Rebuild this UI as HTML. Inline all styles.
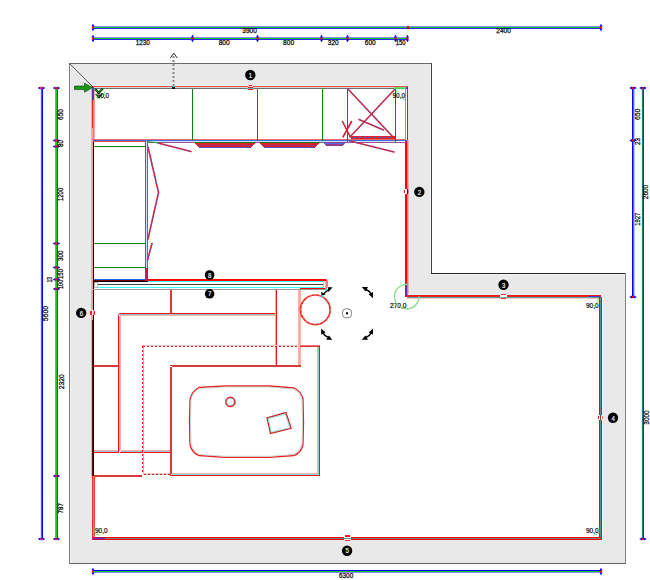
<!DOCTYPE html>
<html><head><meta charset="utf-8"><style>
html,body{margin:0;padding:0;background:#fff;}
svg{display:block;}
text{font-family:"Liberation Sans",sans-serif;}
</style></head><body>
<svg width="650" height="580" viewBox="0 0 650 580">
<defs>
<g id="tk"><path d="M-1.6,-1L0,-3.8L1.6,-1Z M-1.6,1L0,3.8L1.6,1Z" fill="#00f"/><rect x="-1" y="-1" width="2" height="2" fill="#e00"/></g>
<g id="tkv"><path d="M-1,-1.6L-3.8,0L-1,1.6Z M1,-1.6L3.8,0L1,1.6Z" fill="#00f"/><rect x="-1" y="-1" width="2" height="2" fill="#e00"/></g>
</defs>
<!-- wall fill -->
<path d="M69,63H432V273H626V564H69Z M92,86V540H602V297H408V86Z" fill="#e9e9e9" fill-rule="evenodd"/>
<g shape-rendering="crispEdges" fill="none">
<!-- outer border -->
<path d="M70.5,64V563M431,274.5H625" stroke="#f3f3f3"/>
<path d="M430.5,64V273" stroke="#f4f4f4"/>
<path d="M69,63.5H432" stroke="#6a6a6a"/>
<path d="M431.5,63V274" stroke="#404040"/>
<path d="M431,273.5H626" stroke="#252525"/>
<path d="M625.5,273V564" stroke="#808080"/>
<path d="M69,563.5H626" stroke="#666"/>
<path d="M69.5,63V564" stroke="#7a7a7a"/>
<!-- wall lines: top -->
<path d="M93,85.5H406" stroke="#e6f6f6"/>
<path d="M92,86.5H408" stroke="#e84848"/>
<path d="M93,87.5H405" stroke="#d8d8d8"/>
<!-- right upper -->
<path d="M405.5,140V297M406.5,140V297" stroke="#f00"/>
<path d="M405.5,86V140" stroke="#f07a7a"/>
<path d="M407.5,87V140" stroke="#555"/>
<path d="M407.5,140V296" stroke="#3cc"/>
<path d="M408.5,140V295" stroke="#f4b0b0"/>
<!-- step -->
<path d="M408,294.5H600" stroke="#e4f4f4"/>
<path d="M405,295.5H601" stroke="#f01818"/>
<path d="M405,296.5H601" stroke="#e02424"/>
<path d="M407,297.5H599" stroke="#60a8a8"/>
<path d="M407,298.5H599" stroke="#ffc4c4"/>
<!-- right lower -->
<path d="M599.5,296V540" stroke="#f00"/>
<path d="M600.5,297V539" stroke="#6a8a8a"/>
<path d="M601.5,297V540" stroke="#f00"/>
<path d="M602.5,297V540" stroke="#dff"/>
<!-- bottom -->
<path d="M92,537.5H601" stroke="#f00"/>
<path d="M93,538.5H600" stroke="#6a8a8a"/>
<path d="M92,539.5H602" stroke="#f00"/>
<!-- left -->
<path d="M91.5,86V476" stroke="#f4a8a8"/>
<path d="M92.5,100V128M92.5,476V540" stroke="#ee2a2a"/>
<path d="M92.5,87V100" stroke="#6030a0"/>
<path d="M92.5,128V320" stroke="#f4a0a0"/>
<path d="M92.5,320V476" stroke="#6a0808"/>
<path d="M93.5,140V476" stroke="#000"/>
<path d="M93.5,100V140M93.5,476V537" stroke="#3cc"/>
<path d="M93.5,87V100" stroke="#f01010"/>
<path d="M94.5,89V139" stroke="#f8a8a8"/>
<path d="M94.5,477V537" stroke="#f04040"/>
</g>
<!-- corner diagonal -->
<line x1="69.5" y1="63.5" x2="93" y2="87" stroke="#333" stroke-width="0.8"/>


<!-- ======= CABINETS ======= -->
<g shape-rendering="crispEdges">
<!-- top cabinets -->
<rect x="93" y="88" width="313" height="1" fill="#707070"/>
<rect x="93" y="139" width="313" height="1" fill="#f06a6a"/>
<rect x="93" y="140" width="314" height="1" fill="#3b6fe0"/>
<rect x="93" y="141" width="54" height="1" fill="#e84848"/>
<rect x="147" y="142" width="259" height="1" fill="#a0508a"/>
<rect x="147" y="141" width="249" height="1" fill="#cfe0ff"/>
<!-- green dividers top -->
<rect x="192" y="89" width="1" height="52" fill="#108010"/>
<rect x="257" y="89" width="1" height="52" fill="#108010"/>
<rect x="322" y="89" width="1" height="52" fill="#108010"/>
<rect x="347" y="89" width="1" height="53" fill="#108010"/>
<rect x="395" y="89" width="1" height="53" fill="#108010"/>
<!-- left column -->
<rect x="145" y="141" width="1" height="139" fill="#904a8a"/>
<rect x="146" y="141" width="1" height="139" fill="#cfe0ff"/>
<rect x="147" y="141" width="1" height="139" fill="#3b6fe0"/>
<rect x="94" y="146" width="52" height="1" fill="#108010"/>
<rect x="94" y="243" width="52" height="1" fill="#108010"/>
<rect x="94" y="267" width="52" height="1" fill="#108010"/>
<rect x="145" y="268" width="3" height="13" fill="#c01848"/>
<rect x="145" y="268" width="1" height="12" fill="#8a3a8a"/>
<rect x="94" y="279" width="51" height="1" fill="#1a6ae8"/>
<rect x="94" y="280" width="51" height="1" fill="#7a0000"/>
<rect x="94" y="281" width="54" height="1" fill="#000"/>
<!-- counter / partition -->
<rect x="148" y="279" width="178" height="2" fill="#f00"/>
<rect x="148" y="281" width="176" height="1" fill="#3ff"/>
<rect x="97" y="284" width="226" height="1" fill="#444"/>
<rect x="96" y="287" width="228" height="1" fill="#3ff"/>
<rect x="93" y="289" width="233" height="1" fill="#999"/>
<rect x="94.5" y="282.5" width="3" height="5" fill="#fff" stroke="#999" stroke-width="0.7"/>
<rect x="323" y="281" width="2" height="7" fill="#fff" stroke="#888" stroke-width="0.5"/>
</g>
<path d="M148,279.5H325.5a1.5,1.5 0 0 1 1.5,1.5V287a1.5,1.5 0 0 1 -1.5,1.5H300" fill="none" stroke="#f00" stroke-width="1"/>
<!-- drawers (open) -->
<g shape-rendering="crispEdges">
<rect x="194" y="142" width="62" height="1" fill="#108010"/>
<path d="M195,143H255L250,148H199Z" fill="#e0202a"/>
<rect x="197" y="145" width="56" height="1" fill="#a03070"/>
<rect x="199" y="147" width="51" height="1" fill="#6050c0"/>
<rect x="259" y="142" width="61" height="1" fill="#108010"/>
<path d="M260,143H319L314,148H264Z" fill="#e0202a"/>
<rect x="262" y="145" width="55" height="1" fill="#a03070"/>
<rect x="264" y="147" width="50" height="1" fill="#6050c0"/>
<path d="M323,142H346L343,146H326Z" fill="#9a3c8c"/>
<rect x="324" y="143" width="21" height="1" fill="#4a70e0"/>
</g>
<!-- door swings -->
<g fill="none" stroke-width="1.6" stroke-linecap="round">
<path d="M158,143L191,151.5" stroke="#d8203c"/>
<path d="M148,147L158.5,192.5L148,239" stroke="#d8203c"/>
<path d="M152,243.5L147.5,260" stroke="#d8203c"/>
<path d="M350,141L394,152" stroke="#d8203c"/>
<path d="M348,89L393,137M395,89L350,137" stroke="#d8203c"/>
<path d="M342.5,121.5L350,136.5M351.5,121.5L343,137" stroke="#d8203c"/>
<path d="M359,119.5L383.5,130" stroke="#d8203c"/>
</g>
<g fill="none" stroke-width="1" stroke-dasharray="2 4" stroke="#3a68e0">
<path d="M158,143L191,151.5"/>
<path d="M148,147L158.5,192.5L148,239"/>
<path d="M152,243.5L147.5,260"/>
<path d="M350,141L394,152"/>
<path d="M348,89L393,137M395,89L350,137"/>
<path d="M359,119.5L383.5,130"/>
</g>
<rect x="351" y="136" width="44" height="3" fill="#e0202a"/>
<path d="M147,141.5L159,143" stroke="#2a9a2a" stroke-width="1.2"/>
<path d="M147.5,142V160" stroke="#2a9a2a" stroke-width="0.8"/>
<path d="M353,137.5H394" stroke="#3a68e0" stroke-dasharray="3 2" stroke-width="1"/>


<!-- ======= BATHROOM ======= -->
<g shape-rendering="crispEdges">
<rect x="170" y="290" width="1" height="23" fill="#d23c3c"/>
<rect x="171" y="290" width="1" height="23" fill="#d23c3c"/>
<rect x="120" y="313" width="157" height="1" fill="#f01414"/>
<rect x="120" y="314" width="156" height="1" fill="#94c6c6"/>
<rect x="120" y="315" width="155" height="1" fill="#f6b0b0"/>
<rect x="118" y="316" width="1" height="137" fill="#f01414"/>
<rect x="119" y="316" width="1" height="135" fill="#94c6c6"/>
<rect x="120" y="316" width="1" height="134" fill="#f6b0b0"/>
<rect x="94" y="365" width="24" height="1" fill="#d23c3c"/>
<rect x="94" y="366" width="24" height="1" fill="#d23c3c"/>
<rect x="275" y="290" width="1" height="75" fill="#f6b0b0"/>
<rect x="276" y="290" width="1" height="77" fill="#f01414"/>
<rect x="298" y="290" width="1" height="76" fill="#f6b0b0"/>
<rect x="299" y="290" width="1" height="76" fill="#70e6e6"/>
<rect x="300" y="290" width="1" height="76" fill="#f4b0b0"/>
<rect x="170" y="365" width="131" height="1" fill="#d23c3c"/>
<rect x="172" y="366" width="129" height="1" fill="#d23c3c"/>
<rect x="170" y="367" width="1" height="108" fill="#d23c3c"/>
<rect x="171" y="367" width="1" height="107" fill="#d23c3c"/>
<rect x="300" y="345" width="20" height="1" fill="#f07070"/>
<rect x="300" y="346" width="19" height="1" fill="#d23c3c"/>
<rect x="317" y="347" width="1" height="127" fill="#f6b0b0"/>
<rect x="318" y="347" width="1" height="127" fill="#94c6c6"/>
<rect x="319" y="346" width="1" height="130" fill="#f01414"/>
<rect x="172" y="473" width="146" height="1" fill="#f6b0b0"/>
<rect x="172" y="474" width="147" height="1" fill="#70e6e6"/>
<rect x="170" y="475" width="150" height="1" fill="#f01414"/>
<rect x="94" y="450" width="24" height="1" fill="#f6b0b0"/>
<rect x="94" y="451" width="24" height="1" fill="#94c6c6"/>
<rect x="94" y="452" width="24" height="1" fill="#f01414"/>
<rect x="121" y="450" width="49" height="1" fill="#f6b0b0"/>
<rect x="121" y="451" width="49" height="1" fill="#94c6c6"/>
<rect x="120" y="452" width="50" height="1" fill="#f01414"/>
<rect x="94" y="475" width="48" height="1" fill="#d23c3c"/>
<rect x="94" y="476" width="48" height="1" fill="#d23c3c"/>
</g>
<path d="M118.5,318V315.5a2,2 0 0 1 2,-2H122" fill="none" stroke="#e02828" stroke-width="1"/>
<!-- dotted -->
<g shape-rendering="crispEdges">
<rect x="142" y="345" width="157" height="1" fill="#e8c8c8"/>
<rect x="143" y="346" width="1" height="128" fill="#c8b8b8"/>
<rect x="143" y="474" width="27" height="1" fill="#8ef0f0"/>
<rect x="143" y="473" width="27" height="1" fill="#f8c0c0"/>
</g>
<g stroke="#f01010" stroke-width="1" stroke-dasharray="2 2" fill="none" shape-rendering="crispEdges">
<path d="M143,346.5H298"/>
<path d="M142.5,346V474"/>
<path d="M144,474.5H170"/>
</g>
<!-- bathtub -->
<path id="tub" d="M199,387.5L225,386H269L294,388Q301,391 303,399L303.5,422L303,444.5Q301,453 294,455.5L269,457.3H225L199,455.5Q192,453 190,444.5L189.5,422L190,399.4Q192,391 199,387.5Z" fill="none" stroke="#e82020" stroke-width="1.3"/>
<path d="M199,387.5L225,386H269L294,388Q301,391 303,399L303.5,422L303,444.5Q301,453 294,455.5L269,457.3H225L199,455.5Q192,453 190,444.5L189.5,422L190,399.4Q192,391 199,387.5Z" fill="none" stroke="#b8d0d0" stroke-width="0.8" transform="translate(246.7,421.7) scale(0.982,0.972) translate(-246.7,-421.7)"/>
<circle cx="230.4" cy="401.9" r="4.5" fill="none" stroke="#e82020" stroke-width="1.6"/>
<circle cx="230.4" cy="401.9" r="3.6" fill="none" stroke="#60d8d8" stroke-width="0.7"/>
<path d="M267,417.8L285.9,412.6L291.1,428.4L270.5,433.5Z" fill="none" stroke="#d82020" stroke-width="1.3"/>
<path d="M268.3,418.6L285.2,414L289.8,427.6L271.3,432.2Z" fill="none" stroke="#60d0d0" stroke-width="0.7"/>
<!-- round table -->
<circle cx="315.3" cy="309.8" r="14.8" fill="none" stroke="#f02020" stroke-width="1.7"/>
<circle cx="315.3" cy="309.8" r="14.6" fill="none" stroke="#b8e8e8" stroke-width="0.6" stroke-dasharray="1.5 3"/>


<!-- ======= MARKERS / ANNOTATIONS ======= -->
<!-- wall midpoint markers -->
<g shape-rendering="crispEdges">
<!-- top marker -->
<rect x="248" y="84" width="5" height="3" fill="#fbd0d0"/>
<rect x="249" y="85" width="3" height="1" fill="#f02020"/>
<rect x="248" y="87" width="5" height="1" fill="#d02020"/>
<rect x="247" y="88" width="6" height="1" fill="#60c8c8"/>
<rect x="248" y="89" width="5" height="1" fill="#ff1010"/>
<!-- right upper marker -->
<rect x="405" y="189" width="2" height="5" fill="#fff"/>
<rect x="404" y="190" width="1" height="3" fill="#ff1010"/>
<rect x="407" y="189" width="1" height="5" fill="#202020"/>
<rect x="408" y="190" width="1" height="3" fill="#f07070"/>
<!-- step marker -->
<rect x="501" y="294" width="5" height="1" fill="#f03030"/>
<rect x="500" y="295" width="7" height="2" fill="#fff"/>
<rect x="500" y="297" width="7" height="1" fill="#70b0b0"/>
<rect x="501" y="298" width="5" height="1" fill="#f03030"/>
<!-- right lower marker -->
<rect x="599" y="415" width="1" height="5" fill="#fff"/>
<rect x="601" y="415" width="1" height="5" fill="#fff"/>
<rect x="598" y="416" width="1" height="3" fill="#ff1010"/>
<rect x="600" y="415" width="1" height="5" fill="#505050"/>
<rect x="602" y="416" width="1" height="3" fill="#f07070"/>
<!-- bottom marker -->
<rect x="345" y="535" width="5" height="2" fill="#f02020"/>
<rect x="344" y="537" width="7" height="1" fill="#fff"/>
<rect x="344" y="539" width="7" height="1" fill="#fff"/>
<rect x="345" y="540" width="5" height="1" fill="#f03030"/>
<!-- left marker -->
<rect x="90" y="311" width="2" height="4" fill="#f02020"/>
<rect x="92" y="310" width="1" height="5" fill="#fff"/>
<rect x="93" y="310" width="1" height="5" fill="#20e0e0"/>
<rect x="94" y="311" width="1" height="4" fill="#f02020"/>
</g>
<rect x="172" y="86" width="3" height="3" fill="#000"/>
<rect x="172" y="86" width="3" height="1" fill="#2cc"/>
<!-- dashed line with arrow -->
<path d="M173.5,56V86" stroke="#8a8a8a" stroke-width="2" stroke-dasharray="2 2" fill="none"/>
<path d="M170.3,58L173.8,53.2L177.2,58" stroke="#111" stroke-width="0.9" fill="none"/>
<!-- numbered circles -->
<g fill="#000">
<circle cx="250.3" cy="75" r="5.2"/>
<circle cx="419.3" cy="191.9" r="5.2"/>
<circle cx="503.5" cy="284.8" r="5.2"/>
<circle cx="613" cy="417.8" r="5.2"/>
<circle cx="347.1" cy="550.7" r="5.2"/>
<circle cx="81.2" cy="312.9" r="5.2"/>
<circle cx="209.6" cy="293.8" r="4.8"/>
<circle cx="209.6" cy="275" r="4.8"/>
</g>
<g fill="#f0f4ff" font-size="7.5" text-anchor="middle" stroke="#f0f4ff" stroke-width="0.2">
<text x="250.5" y="77.7" textLength="3.4" lengthAdjust="spacingAndGlyphs">1</text>
<text x="419.5" y="194.6" textLength="3.4" lengthAdjust="spacingAndGlyphs">2</text>
<text x="503.7" y="287.5" textLength="3.4" lengthAdjust="spacingAndGlyphs">3</text>
<text x="613.2" y="420.5" textLength="3.4" lengthAdjust="spacingAndGlyphs">4</text>
<text x="347.3" y="553.4" textLength="3.4" lengthAdjust="spacingAndGlyphs">5</text>
<text x="81.4" y="315.6" textLength="3.4" lengthAdjust="spacingAndGlyphs">6</text>
<text x="209.8" y="296.4" textLength="3.4" lengthAdjust="spacingAndGlyphs">7</text>
<text x="209.8" y="277.6" textLength="3.4" lengthAdjust="spacingAndGlyphs">8</text>
</g>
<!-- green arrow top-left -->
<path d="M74.5,86H84.5V83.2L92.6,87.6L84.5,92.3V89.6H74.5Z" fill="#149a14" stroke="#0a3a0a" stroke-width="0.6"/>
<!-- green V marks top-left -->
<path d="M95,88.8L98.6,92.8L102.8,88.4" stroke="#083a08" stroke-width="2.2" fill="none"/>
<path d="M95,88.8L98.6,92.8L102.8,88.4" stroke="#1a9a1a" stroke-width="1" fill="none"/>
<path d="M95.5,94L98.8,97.5L102.5,93.5" stroke="#127a22" stroke-width="1.4" fill="none"/>
<path d="M96,97Q100,101 104,96Q106,92 103,89" stroke="#70e070" stroke-width="0.7" fill="none"/>
<!-- angle labels -->
<g font-size="7.2" fill="#000" stroke="#000" stroke-width="0.2">
<text x="97" y="97.5" textLength="12" lengthAdjust="spacingAndGlyphs">90,0</text>
<text x="392.5" y="97.8" textLength="12.5" lengthAdjust="spacingAndGlyphs">90,0</text>
<text x="95" y="533" textLength="12.5" lengthAdjust="spacingAndGlyphs">90,0</text>
<text x="586" y="532.7" textLength="12.5" lengthAdjust="spacingAndGlyphs">90,0</text>
<text x="586" y="307.8" textLength="12.5" lengthAdjust="spacingAndGlyphs">90,0</text>
<text x="390" y="308" textLength="16.5" lengthAdjust="spacingAndGlyphs">270,0</text>
</g>
<g fill="none" stroke="#5cd85c" stroke-width="0.8">
<path d="M394,88H406" stroke="#4ee04e" stroke-width="1.6"/>
<path d="M396,90Q398,97 405,100"/>
<path d="M406.8,284.3A12.3,12.3 0 1 0 419.1,296.6" stroke="#72da72" stroke-width="1.3"/>
<path d="M406.8,284.3A12.3,12.3 0 1 0 419.1,296.6" stroke="#d8f8d8" stroke-width="0.5" stroke-dasharray="2 2"/>
<path d="M94,527V532Q96,535 100,535" />
<path d="M599,527V533Q597,535 593,535"/>
<path d="M598,298V303Q596,306 592,306"/>
</g>
<path d="M93,538.5H105" stroke="#6a2ab0" stroke-width="2"/>
<path d="M601.5,527V537" stroke="#5a2ad0" stroke-width="1"/>
<path d="M588,296.5H600" stroke="#5a2ad0" stroke-width="1"/>
<path d="M406.5,285V296" stroke="#6a2ab0" stroke-width="1.2"/>
<rect x="406" y="87" width="2" height="2" fill="#7a30b0"/>
<!-- rotation / move handles -->
<rect x="342.5" y="308.8" width="9" height="9" rx="3.5" fill="#fff" stroke="#777" stroke-width="0.9"/>
<rect x="346" y="312.3" width="2" height="2" fill="#000"/>
<g id="rot">
<path d="M365,289.3Q370.5,291 371.5,295.5" fill="none" stroke="#000" stroke-width="1.5"/>
<path d="M361.8,287.1L368,287.1L365.4,291.3Z M373,298.3L373,292L368.6,294.2Z" fill="#000"/>
</g>
<use href="#rot" transform="translate(0,626.8) scale(1,-1)"/>
<use href="#rot" transform="translate(694.2,626.8) scale(-1,-1)"/>
<path d="M322.5,294.5L329.5,289" stroke="#000" stroke-width="1.4"/>
<path d="M328,287.2L332.6,287.2L328.2,292.2Z M321.2,292L325.8,294.3L321.4,296Z" fill="#000"/>
<rect x="325" y="288.5" width="2" height="2" fill="#2dd"/>
<rect x="321" y="295" width="2" height="2" fill="#2dd"/>

<!-- ======= DIMENSIONS ======= -->
<g shape-rendering="crispEdges">
<!-- top line 1 -->
<rect x="93" y="26" width="508" height="1" fill="#88f"/>
<rect x="93" y="27" width="508" height="1" fill="#14c814"/>
<rect x="93" y="28" width="508" height="1" fill="#2828ff"/>
<!-- top line 2 -->
<rect x="93" y="37" width="315" height="1" fill="#88f"/>
<rect x="93" y="38" width="315" height="1" fill="#14c814"/>
<rect x="93" y="39" width="315" height="1" fill="#2828ff"/>
<!-- left line 1 -->
<rect x="40" y="88" width="1" height="451" fill="#e2e2ff"/>
<rect x="41" y="88" width="1" height="451" fill="#1f8f62"/>
<rect x="42" y="88" width="1" height="451" fill="#00f"/>
<!-- left line 2 -->
<rect x="55" y="88" width="1" height="451" fill="#8a8aff"/>
<rect x="56" y="88" width="1" height="451" fill="#14c814"/>
<rect x="57" y="88" width="1" height="451" fill="#3030ff"/>
<!-- right line 1 -->
<rect x="632" y="88" width="1" height="209" fill="#00f"/>
<rect x="633" y="88" width="1" height="209" fill="#20a060"/>
<rect x="634" y="88" width="1" height="209" fill="#c4c4ff"/>
<!-- right line 2 -->
<rect x="641" y="88" width="1" height="451" fill="#f0eaff"/>
<rect x="642" y="88" width="1" height="451" fill="#1f8080"/>
<rect x="643" y="88" width="1" height="451" fill="#1428e0"/>
<!-- bottom -->
<rect x="93" y="570" width="508" height="1" fill="#00f"/>
<rect x="93" y="571" width="508" height="1" fill="#14c814"/>
<rect x="93" y="572" width="508" height="1" fill="#88f"/>
</g>
<!-- ticks -->
<use href="#tk" x="93" y="27.5"/><use href="#tk" x="601" y="27.5"/>
<rect x="407" y="26" width="2" height="3" fill="#e00"/>
<use href="#tk" x="93" y="38.5"/><use href="#tk" x="192.5" y="38.5"/><use href="#tk" x="257.5" y="38.5"/><use href="#tk" x="321.5" y="38.5"/><use href="#tk" x="347.5" y="38.5"/><use href="#tk" x="395.5" y="38.5"/><use href="#tk" x="407.5" y="38.5"/>
<use href="#tkv" x="41.5" y="88"/><use href="#tkv" x="41.5" y="539"/>
<use href="#tkv" x="56.5" y="88"/><use href="#tkv" x="56.5" y="140.5"/><use href="#tkv" x="56.5" y="146.5"/><use href="#tkv" x="56.5" y="243.5"/><use href="#tkv" x="56.5" y="267.5"/><use href="#tkv" x="56.5" y="279.5"/><use href="#tkv" x="56.5" y="289"/><use href="#tkv" x="56.5" y="476"/><use href="#tkv" x="56.5" y="539"/>
<use href="#tkv" x="633" y="88"/><use href="#tkv" x="633" y="140.5"/><use href="#tkv" x="633" y="297"/>
<use href="#tkv" x="643" y="88"/><use href="#tkv" x="643" y="539"/>
<use href="#tk" x="93" y="571.5"/><use href="#tk" x="601" y="571.5"/>
<!-- dim labels -->
<g font-size="8" fill="#000" text-anchor="middle" stroke="#000" stroke-width="0.25">
<text x="249.6" y="32.8" textLength="14.6" lengthAdjust="spacingAndGlyphs">3900</text>
<text x="503.5" y="33.0" textLength="14.5" lengthAdjust="spacingAndGlyphs">2400</text>
<text x="142.8" y="45.2" textLength="14.2" lengthAdjust="spacingAndGlyphs">1230</text>
<text x="224.2" y="45.2" textLength="11" lengthAdjust="spacingAndGlyphs">800</text>
<text x="288.6" y="45.2" textLength="11" lengthAdjust="spacingAndGlyphs">800</text>
<text x="333.3" y="45.2" textLength="11" lengthAdjust="spacingAndGlyphs">320</text>
<text x="370.3" y="45.4" textLength="11" lengthAdjust="spacingAndGlyphs">600</text>
<text x="400.7" y="45.4" textLength="10" lengthAdjust="spacingAndGlyphs">150</text>
<text x="346.1" y="577.6" textLength="14.3" lengthAdjust="spacingAndGlyphs">6300</text>
<text transform="translate(47.5,313.6) rotate(-90)" textLength="15.2" lengthAdjust="spacingAndGlyphs">5600</text>
<text transform="translate(63.3,114.5) rotate(-90)" textLength="11" lengthAdjust="spacingAndGlyphs">650</text>
<text transform="translate(63.3,143.5) rotate(-90)" textLength="7" lengthAdjust="spacingAndGlyphs">80</text>
<text transform="translate(63.3,194.4) rotate(-90)" textLength="13.2" lengthAdjust="spacingAndGlyphs">1200</text>
<text transform="translate(63.3,255.7) rotate(-90)" textLength="10.5" lengthAdjust="spacingAndGlyphs">300</text>
<text transform="translate(63.1,274) rotate(-90)" textLength="10" lengthAdjust="spacingAndGlyphs">150</text>
<text transform="translate(63.1,284.4) rotate(-90)" textLength="9.2" lengthAdjust="spacingAndGlyphs">100</text>
<text transform="translate(52.2,279.7) rotate(-90)" textLength="5.5" lengthAdjust="spacingAndGlyphs">13</text>
<text transform="translate(63.6,381.7) rotate(-90)" textLength="15.1" lengthAdjust="spacingAndGlyphs">2320</text>
<text transform="translate(63,508.3) rotate(-90)" textLength="10.2" lengthAdjust="spacingAndGlyphs">787</text>
<text transform="translate(639.8,114.3) rotate(-90)" textLength="11.4" lengthAdjust="spacingAndGlyphs">650</text>
<text transform="translate(639.8,141.5) rotate(-90)" textLength="7" lengthAdjust="spacingAndGlyphs">23</text>
<text transform="translate(640.2,219.2) rotate(-90)" textLength="13.1" lengthAdjust="spacingAndGlyphs">1927</text>
<text transform="translate(648.4,192) rotate(-90)" textLength="14.4" lengthAdjust="spacingAndGlyphs">2600</text>
<text transform="translate(649,417.5) rotate(-90)" textLength="14.4" lengthAdjust="spacingAndGlyphs">3000</text>
</g>
</svg>
</body></html>
